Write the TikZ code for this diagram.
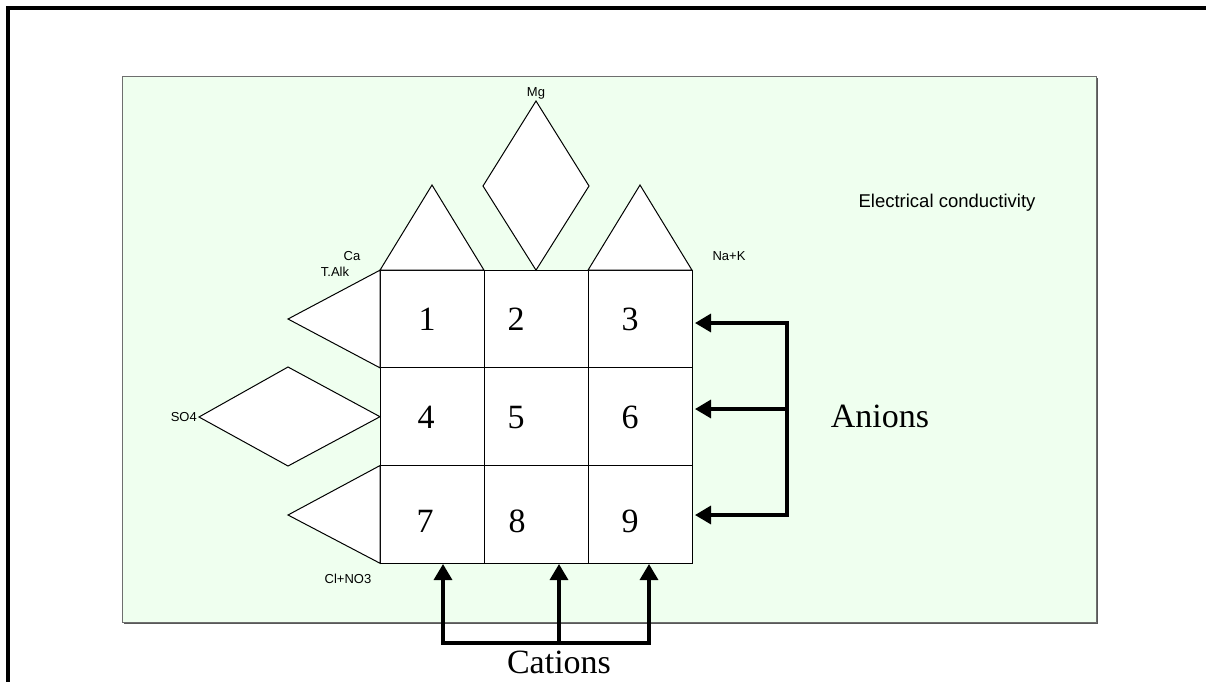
\documentclass[tikz,border=0pt]{standalone}
\usepackage{fontspec}
\setmainfont{Liberation Serif}
\newfontfamily\arialf{Liberation Sans}
\usetikzlibrary{arrows.meta}
\definecolor{bggreen}{RGB}{239,255,239}
\definecolor{bordergray}{RGB}{110,110,110}
\tikzset{
  shp/.style={draw=black, line width=1pt, fill=white},
  cell/.style={draw=black, line width=1pt, fill=white, minimum width=104pt, minimum height=97.7pt, inner sep=0pt, outer sep=0pt},
  num/.style={font=\fontsize{34}{34}\selectfont, anchor=base, inner sep=0pt},
  big/.style={font=\fontsize{34}{34}\selectfont, anchor=base, inner sep=0pt},
  lbl/.style={font=\arialf\fontsize{13}{13}\selectfont, inner sep=0pt},
  arr/.style={line width=3.3pt, -{Triangle[length=16pt,width=18pt]}},
  bar/.style={line width=3.3pt}
}
\begin{document}
\begin{tikzpicture}[x=1pt,y=-1pt]
\useasboundingbox (0,0) rectangle (1206,681);
\clip (0,0) rectangle (1206,681);
% outer frame
\draw[line width=4pt] (8,690) -- (8,8) -- (1215,8);
% green panel
\fill[bordergray!80!black] (124,78) rectangle (1097.5,623.5);
\filldraw[fill=bggreen, draw=bordergray, line width=1pt] (122,76) rectangle (1096,622);
% grid cells
\node[cell] (c1) at (432,319) {};
\node[cell] (c2) at (536,319) {};
\node[cell] (c3) at (640,319) {};
\node[cell] (c4) at (432,416.7) {};
\node[cell] (c5) at (536,416.7) {};
\node[cell] (c6) at (640,416.7) {};
\node[cell] (c7) at (432,514.4) {};
\node[cell] (c8) at (536,514.4) {};
\node[cell] (c9) at (640,514.4) {};
% top shapes
\draw[shp] (c1.north west) -- (432,185) -- (c1.north east) -- cycle;
\draw[shp] (c3.north west) -- (640,185) -- (c3.north east) -- cycle;
\draw[shp] (536,101) -- (589,186) -- (c2.north) -- (483,186) -- cycle;
% left shapes
\draw[shp] (c1.north west) -- (288,319) -- (c1.south west) -- cycle;
\draw[shp] (c7.north west) -- (288,515) -- (c7.south west) -- cycle;
\draw[shp] (199,417) -- (288,367) -- (c4.west) -- (288,466) -- cycle;
% numbers
\node[num] (n1) at (427,330) {1};
\node[num] (n2) at (516,330) {2};
\node[num] (n3) at (630,330) {3};
\node[num] (n4) at (426,428) {4};
\node[num] (n5) at (516,428) {5};
\node[num] (n6) at (630,428) {6};
\node[num] (n7) at (425,532) {7};
\node[num] (n8) at (517,532) {8};
\node[num] (n9) at (630,532) {9};
% small labels
\node[lbl] (mg) at (536,93) {Mg};
\node[lbl] (ca) at (352,256) {Ca};
\node[lbl] (talk) at (335,272) {T.Alk};
\node[lbl] (nak) at (729,256) {Na+K};
\node[lbl, anchor=east] (so4) at (197,417) {SO4};
\node[lbl] (clno) at (348,579) {Cl+NO3};
\node[font=\arialf\fontsize{18.5}{18.5}\selectfont, inner sep=0pt] (ec) at (947,203) {Electrical conductivity};
% anions arrows
\coordinate (a1) at (787,323);
\coordinate (a2) at (787,409);
\coordinate (a3) at (787,515);
\draw[bar, line cap=rect] (a1) -- (a3);
\draw[arr] (a1) -- (695,323);
\draw[arr] (a2) -- (695,409);
\draw[arr] (a3) -- (695,515);
\node[big] (anions) at (880,427) {Anions};
% cations arrows
\coordinate (b1) at (443,643);
\coordinate (b2) at (559,643);
\coordinate (b3) at (649,643);
\draw[bar, line cap=rect] (b1) -- (b3);
\draw[arr] (b1) -- (443,564);
\draw[arr] (b2) -- (559,564);
\draw[arr] (b3) -- (649,564);
\node[big] (cations) at (559,673) {Cations};
\end{tikzpicture}
\end{document}
